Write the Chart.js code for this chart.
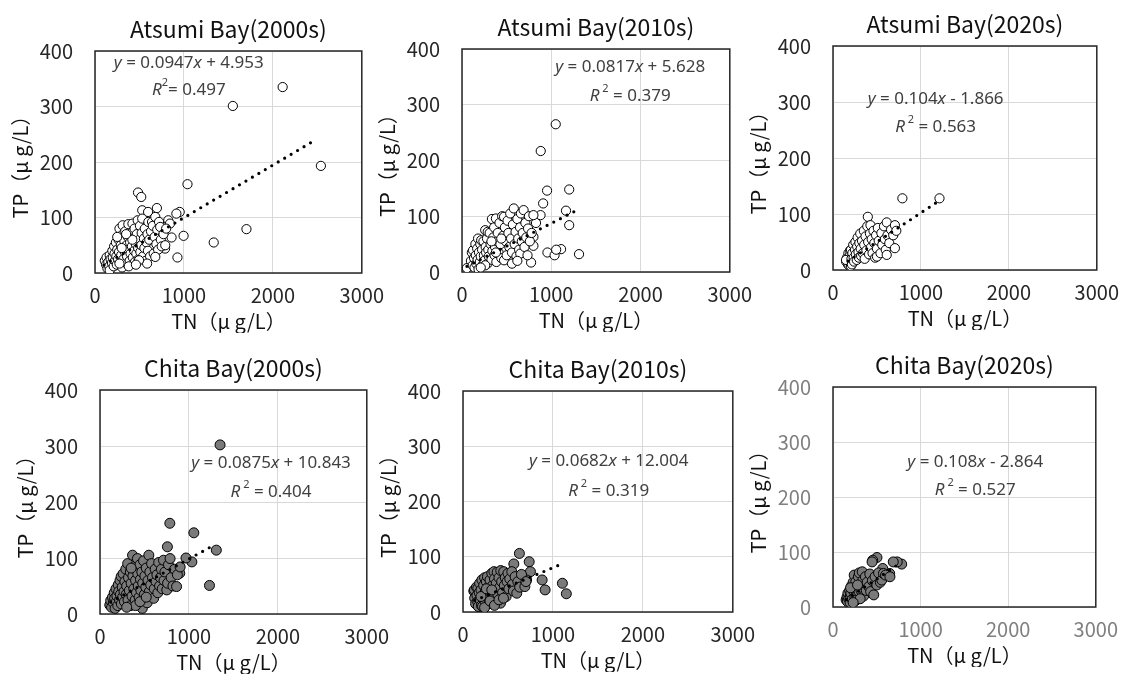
<!DOCTYPE html>
<html>
<head>
<meta charset="utf-8">
<script src="https://cdn.jsdelivr.net/npm/chart.js@4.4.1/dist/chart.umd.min.js"></script>
<style>
  html, body { margin: 0; padding: 0; background: #fff; width: 1127px; height: 675px; overflow: hidden; }
  canvas { position: absolute; }
</style>
</head>
<body>
<canvas id="c1"></canvas>
<canvas id="c2"></canvas>
<canvas id="c3"></canvas>
<canvas id="c4"></canvas>
<canvas id="c5"></canvas>
<canvas id="c6"></canvas>
<script>
// TN (x) / TP (y) pairs
var atsumi2000 = [
  [2110,335],[1550,301],[2540,193],[1040,160],[1703,79],[1335,55],[996,67],[927,28],[952,110],[915,107],
  [484,145],[520,137],[696,117],[531,113],[597,110],[824,95],[843,89],[861,64],[788,44],
  [110,22],[125,15],[130,28],[140,8],[150,20],[160,12],[165,32],[175,25],[165,5],[190,18],
  [195,40],[200,28],[210,12],[215,48],[220,35],[225,22],[235,55],[240,30],[245,15],[250,42],
  [260,25],[265,60],[270,38],[275,80],[280,18],[290,50],[295,32],[300,68],[305,10],[311,86],
  [315,45],[320,25],[330,58],[335,38],[340,75],[350,18],[355,50],[360,30],[370,65],[375,88],
  [380,42],[390,22],[395,55],[400,35],[410,72],[415,48],[421,89],[425,28],[430,62],[440,40],
  [445,80],[450,20],[460,52],[465,35],[470,70],[480,95],[485,45],[490,25],[500,60],[505,85],
  [510,38],[520,50],[525,72],[531,98],[540,30],[550,62],[555,45],[560,80],[570,22],[580,55],
  [590,70],[595,40],[600,92],[610,60],[620,30],[630,75],[641,92],[650,85],[660,35],[670,65],
  [678,101],[690,52],[700,78],[710,42],[720,92],[733,83],[740,60],[750,48],[770,70],[790,50],
  [800,80],[586,17],[495,23],[678,29],[275,17],[420,60],[350,70],[300,45],[250,65],[380,12],[460,15]
];
var atsumi2010 = [
  [1050,265],[882,217],[953,146],[1201,148],[909,123],[1165,110],[1201,84],[1311,32],[957,35],[1037,30],
  [1110,41],[1055,40],[774,17],[55,7],[829,88],[880,102],[800,63],[800,47],
  [100,20],[110,35],[120,12],[124,39],[135,25],[140,8],[150,50],[155,30],[160,15],[170,42],
  [175,22],[180,60],[185,5],[190,35],[200,18],[205,50],[210,28],[215,57],[225,40],[230,12],
  [240,55],[245,30],[250,20],[260,75],[265,45],[270,35],[280,60],[285,15],[288,72],[295,40],
  [300,28],[310,70],[320,50],[330,22],[335,95],[340,38],[350,62],[360,80],[365,30],[370,45],
  [380,96],[385,18],[390,55],[400,70],[410,35],[420,88],[430,50],[440,25],[450,100],[460,65],
  [471,99],[471,21],[480,80],[490,55],[500,30],[510,92],[520,70],[530,45],[540,105],[550,60],
  [560,35],[570,85],[580,114],[590,50],[600,72],[610,28],[620,95],[630,60],[640,40],[650,80],
  [653,33],[660,105],[670,55],[680,70],[690,111],[700,45],[710,88],[720,62],[734,30],[740,78],
  [750,100],[760,55],[780,70],[800,102],[380,35],[330,55],[260,12],[210,8],[440,60],[560,15],[620,20]
];
var atsumi2020 = [
  [789,128],[1211,128],[396,95],
  [150,15],[160,22],[170,10],[175,30],[180,18],[185,8],[190,26],[195,35],[200,14],[204,36],
  [204,7],[148,18],[210,20],[215,10],[220,30],[230,45],[235,22],[240,15],[250,36],[255,50],
  [260,28],[270,18],[275,42],[280,58],[290,32],[295,22],[300,48],[310,65],[315,38],[320,25],
  [330,52],[340,30],[350,70],[355,45],[360,20],[370,60],[380,35],[390,78],[400,50],[410,28],
  [420,65],[426,80],[430,40],[440,55],[450,30],[460,70],[470,48],[480,22],[490,62],[500,38],
  [500,24],[510,75],[520,52],[540,30],[550,66],[560,45],[580,78],[590,55],[600,36],[611,85],
  [611,27],[620,62],[640,48],[660,72],[685,62],[704,80],[704,39],[720,70]
];
var chita2000 = [
  [1350,302],[785,162],[1055,145],[1308,114],[1231,51],[758,120],[1033,93],[967,100],[897,73],
  [110,16],[120,24],[130,12],[140,30],[150,20],[160,38],[165,28],[170,10],[180,45],[185,22],
  [190,32],[200,15],[205,52],[210,40],[220,25],[225,60],[230,35],[238,67],[240,18],[250,48],
  [255,30],[260,72],[270,40],[275,22],[280,58],[290,80],[295,35],[300,50],[311,90],[315,25],
  [320,65],[330,42],[340,75],[345,15],[350,55],[360,32],[366,105],[370,68],[380,45],[390,85],
  [395,25],[400,60],[410,38],[421,99],[425,72],[430,50],[440,30],[450,88],[455,62],[460,42],
  [470,75],[476,10],[480,55],[490,95],[500,35],[505,68],[515,48],[520,82],[530,20],[540,60],
  [549,105],[555,40],[560,75],[570,52],[580,90],[590,65],[604,28],[610,45],[620,80],[630,58],
  [640,70],[650,38],[660,92],[670,50],[680,65],[690,80],[700,45],[714,96],[720,60],[730,75],
  [751,43],[760,55],[770,88],[788,99],[800,65],[820,50],[840,80],[861,49],[870,70],[901,84],
  [400,15],[300,12],[450,22],[350,82],[520,30]
];
var chita2010 = [
  [627,106],[736,91],[565,87],[880,58],[913,40],[1105,52],[1149,33],[750,73],[707,58],
  [120,38],[127,40],[130,25],[140,15],[150,45],[155,30],[163,19],[165,43],[170,10],[180,35],
  [185,52],[190,22],[200,40],[205,12],[210,58],[217,10],[220,30],[230,48],[240,62],[245,20],
  [250,38],[260,55],[265,28],[272,64],[280,45],[290,15],[300,58],[310,35],[320,70],[330,48],
  [340,25],[344,73],[350,60],[360,40],[370,52],[380,72],[390,30],[400,62],[410,45],[417,16],
  [420,75],[430,55],[440,35],[453,73],[460,48],[470,62],[480,28],[490,55],[500,70],[510,42],
  [520,60],[543,73],[550,50],[560,38],[580,64],[598,34],[610,55],[630,45],[650,68],[688,46],
  [700,55],[240,8],[200,28],[300,20],[350,12],[400,22],[260,42],[320,40],[450,25]
];
var chita2020 = [
  [502,90],[453,85],[784,78],[733,82],[647,61],[568,70],
  [150,13],[160,18],[165,10],[170,25],[180,15],[190,30],[195,8],[200,20],[204,25],[210,38],
  [220,14],[230,45],[240,28],[242,58],[250,18],[260,46],[270,35],[280,22],[290,55],[297,28],
  [300,62],[310,40],[320,30],[334,64],[340,48],[350,20],[360,38],[370,55],[380,30],[390,45],
  [409,37],[420,60],[430,28],[446,82],[450,48],[465,22],[480,55],[500,40],[520,62],[540,45],
  [557,49],[576,61],[600,58],[650,55],[688,82],[260,12],[310,15],[200,35],[230,8],[280,40]
];

// trend line end points (TN, TP)
var trend2000a = [[100,14.4],[2460,238]];
var trend2010a = [[55,10.1],[1320,113.5]];
var trend2020a = [[170,15.8],[1190,121.9]];
var trend2000c = [[120,21.3],[1300,124.6]];
var trend2010c = [[130,20.9],[1100,87]];
var trend2020c = [[150,13.3],[780,81.4]];

var titles = ['Atsumi Bay(2000s)','Atsumi Bay(2010s)','Atsumi Bay(2020s)','Chita Bay(2000s)','Chita Bay(2010s)','Chita Bay(2020s)'];
var slopes = ['0.0947','0.0817','0.104','0.0875','0.0682','0.108'];
var intercepts = ['+ 4.953','+ 5.628','- 1.866','+ 10.843','+ 12.004','- 2.864'];
var r2s = ['0.497','0.379','0.563','0.404','0.319','0.527'];
// where the equation labels sit, in data units: [TN, TP line 1, TP line 2]
var eqAt = [[1055,378,330],[1884,368,316],[1167,305,255],[1923,270,218],[1620,273,219],[1624,264,213]];
var xTicks = [0, 1000, 2000, 3000];
var yTicks = [0, 100, 200, 300, 400];

// plot area boxes on the page: left, top, right, bottom
var plotBoxes = [[95,51,368,273],[462,49,736,272],[833,46,1103,270],[100,390,373,614],[463,391,739,612],[833,387,1102,607]];
var Y_AXIS_W = 95, X_AXIS_H = 60, TITLE_H = 35, RIGHT_PAD = 26;

Chart.defaults.font.family = "'Noto Sans CJK JP', 'Noto Sans', sans-serif";

var frame_plugin = {
  id: 'frame',
  beforeDatasetsDraw: function (chart) {
    var a = chart.chartArea, ctx = chart.ctx;
    ctx.save();
    ctx.strokeStyle = '#262626';
    ctx.lineWidth = 1.5;
    ctx.strokeRect(a.left, a.top, a.right - a.left, a.bottom - a.top);
    ctx.restore();
  }
};

// chart title, centred over the plot area rather than the canvas
var head_plugin = {
  id: 'head',
  afterDraw: function (chart, args, opts) {
    if (!opts.text) return;
    var a = chart.chartArea, ctx = chart.ctx;
    ctx.save();
    ctx.fillStyle = '#111';
    ctx.font = "23px 'Noto Sans CJK JP', 'Noto Sans', sans-serif";
    ctx.textAlign = 'center';
    ctx.textBaseline = 'middle';
    ctx.fillText(opts.text, (a.left + a.right) / 2, a.top - 22);
    ctx.restore();
  }
};

function run_font (st) {
  if (st === 'i') return 'italic 17px "Noto Sans"';
  if (st === 's') return '11px "Noto Sans"';
  return '17px "Noto Sans"';
}

function draw_runs (ctx, runs, cx, cy) {
  var total = 0;
  runs.forEach(function (r) { ctx.font = run_font(r[1]); total += ctx.measureText(r[0]).width; });
  var x = cx - total / 2;
  ctx.textBaseline = 'middle';
  ctx.textAlign = 'left';
  runs.forEach(function (r) {
    ctx.font = run_font(r[1]);
    ctx.fillText(r[0], x, r[1] === 's' ? cy - 7 : cy);
    x += ctx.measureText(r[0]).width;
  });
}

var eq_plugin = {
  id: 'eqText',
  afterDatasetsDraw: function (chart, args, opts) {
    if (!opts.at) return;
    var ctx = chart.ctx, sx = chart.scales.x, sy = chart.scales.y;
    var cx = sx.getPixelForValue(opts.at[0]);
    ctx.save();
    ctx.fillStyle = '#404040';
    draw_runs(ctx, opts.line1, cx, sy.getPixelForValue(opts.at[1]));
    draw_runs(ctx, opts.line2, cx, sy.getPixelForValue(opts.at[2]));
    ctx.restore();
  }
};

Chart.register(frame_plugin, head_plugin, eq_plugin);

function to_xy (pairs) {
  return pairs.map(function (p) { return { x: p[0], y: p[1] }; });
}

function plain_tick (v) { return String(v); }

function create_chart_scatter (idx, points, trend, filled, tick_col) {
  var box = plotBoxes[idx];
  var cv = document.getElementById('c' + (idx + 1));
  var w = box[2] - box[0] + Y_AXIS_W + RIGHT_PAD;
  var h = box[3] - box[1] + TITLE_H + X_AXIS_H;
  cv.width = w; cv.height = h;
  cv.style.width = w + 'px'; cv.style.height = h + 'px';
  cv.style.left = (box[0] - Y_AXIS_W) + 'px';
  cv.style.top = (box[1] - TITLE_H) + 'px';

  var line2 = idx === 0
    ? [['R', 'i'], ['2', 's'], ['= ' + r2s[idx], 'n']]
    : [['R', 'i'], [' 2', 's'], [' = ' + r2s[idx], 'n']];

  new Chart(cv.getContext('2d'), {
    type: 'scatter',
    data: {
      datasets: [{
        data: to_xy(trend),
        showLine: true,
        pointRadius: 0,
        borderColor: '#000',
        borderWidth: 3.2,
        borderDash: [0, 7.5],
        borderCapStyle: 'round',
        order: 0
      }, {
        data: to_xy(points),
        pointRadius: filled ? 5 : 4.6,
        pointBackgroundColor: filled ? '#7a7a7a' : '#fff',
        pointBorderColor: '#000',
        pointBorderWidth: 1,
        order: 1
      }]
    },
    options: {
      responsive: false,
      animation: false,
      layout: { padding: { left: 0, top: TITLE_H, right: RIGHT_PAD, bottom: 0 } },
      plugins: {
        legend: { display: false },
        tooltip: { enabled: false },
        title: { display: false },
        head: { text: titles[idx] },
        eqText: {
          at: eqAt[idx],
          line1: [['y', 'i'], [' = ' + slopes[idx], 'n'], ['x', 'i'], [' ' + intercepts[idx], 'n']],
          line2: line2
        }
      },
      scales: {
        x: {
          type: 'linear', min: 0, max: 3000,
          afterFit: function (s) { s.height = X_AXIS_H; },
          afterBuildTicks: function (s) { s.ticks = xTicks.map(function (v) { return { value: v }; }); },
          ticks: { color: tick_col, font: { size: 20 }, padding: 10, maxRotation: 0, callback: plain_tick },
          grid: { color: '#d9d9d9', drawTicks: false },
          border: { display: false },
          title: { display: true, text: 'TN（μ g/L）', color: '#111', font: { size: 20 }, padding: { top: 0, bottom: 0 } }
        },
        y: {
          type: 'linear', min: 0, max: 400,
          afterFit: function (s) { s.width = Y_AXIS_W; },
          afterBuildTicks: function (s) { s.ticks = yTicks.map(function (v) { return { value: v }; }); },
          ticks: { color: tick_col, font: { size: 20 }, padding: 22, callback: plain_tick },
          grid: { color: '#d9d9d9', drawTicks: false },
          border: { display: false },
          title: { display: true, text: 'TP（μ g/L）', color: '#111', font: { size: 20 }, padding: { top: 8, bottom: 0 } }
        }
      }
    }
  });
}

create_chart_scatter(0, atsumi2000, trend2000a, false, '#262626');
create_chart_scatter(1, atsumi2010, trend2010a, false, '#262626');
create_chart_scatter(2, atsumi2020, trend2020a, false, '#262626');
create_chart_scatter(3, chita2000, trend2000c, true, '#262626');
create_chart_scatter(4, chita2010, trend2010c, true, '#262626');
create_chart_scatter(5, chita2020, trend2020c, true, '#7f7f7f');
</script>
</body>
</html>
